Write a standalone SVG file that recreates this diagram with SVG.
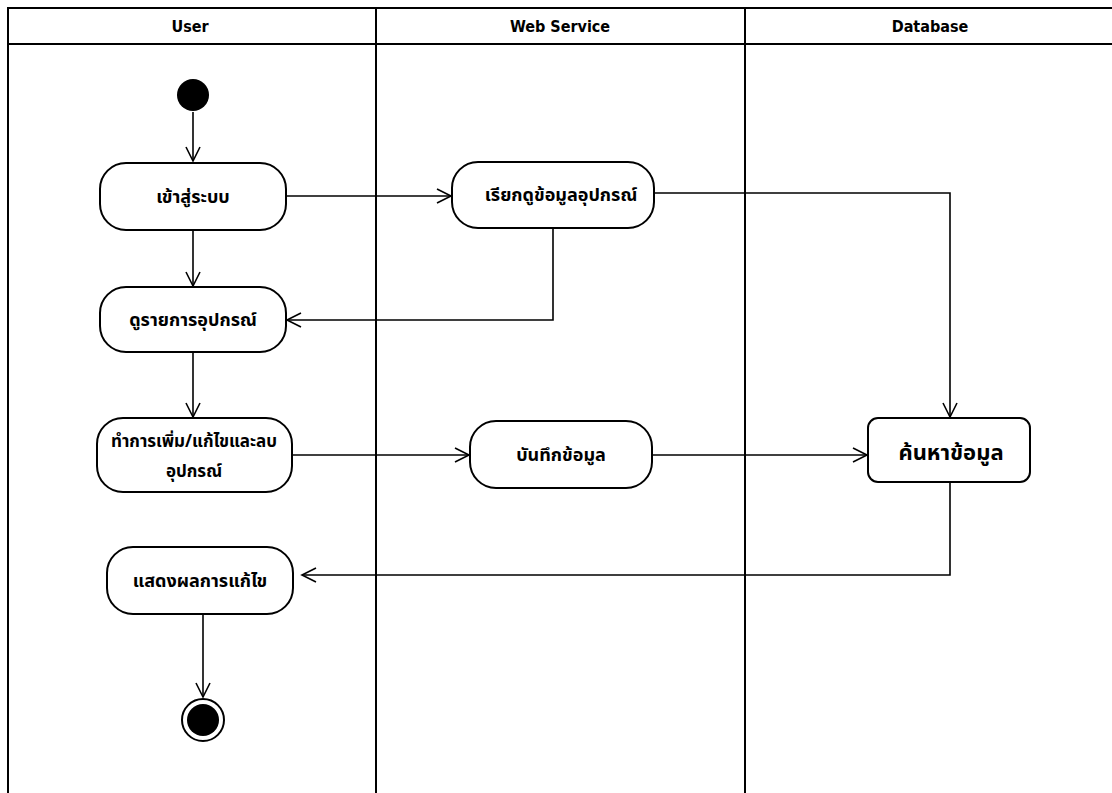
<svg xmlns="http://www.w3.org/2000/svg" width="1112" height="793" viewBox="0 0 1112 793">
<style>
.frame{fill:none;stroke:#000;stroke-width:2}
.node{fill:#fff;stroke:#000;stroke-width:2}
.hdr{font-family:"DejaVu Sans Condensed","Liberation Sans",sans-serif;font-weight:bold;font-size:16px;text-anchor:middle;fill:#000}
.lbl{font-family:"Noto Sans Thai","Noto Sans","DejaVu Sans",sans-serif;font-weight:bold;font-size:18px;text-anchor:middle;fill:#000}
.conn{fill:none;stroke:#000;stroke-width:1.6}
</style>
<defs>
<marker id="arr" markerWidth="20" markerHeight="20" refX="17" refY="10" orient="auto" markerUnits="userSpaceOnUse">
<polyline points="3,3 17,10 3,17" fill="none" stroke="#000" stroke-width="1.6"/>
</marker>
</defs>
<rect width="1112" height="793" fill="#fff"/>
<g id="swimlanes">
<path class="frame" d="M1112,8 H8 V793 M8,44 H1112 M376,8 V793 M745,8 V793"/>
<text class="hdr" x="190" y="32">User</text>
<text class="hdr" x="560" y="32">Web Service</text>
<text class="hdr" x="930" y="32">Database</text>
</g>
<g id="connectors">
<path class="conn" d="M193,112 V161" marker-end="url(#arr)"/>
<path class="conn" d="M286,196 H451" marker-end="url(#arr)"/>
<path class="conn" d="M193,230 V286" marker-end="url(#arr)"/>
<path class="conn" d="M553,228 V320 H287" marker-end="url(#arr)"/>
<path class="conn" d="M654,193 H950 V417" marker-end="url(#arr)"/>
<path class="conn" d="M193,352 V417" marker-end="url(#arr)"/>
<path class="conn" d="M292,455 H469" marker-end="url(#arr)"/>
<path class="conn" d="M652,455 H867" marker-end="url(#arr)"/>
<path class="conn" d="M950,482 V575 H302" marker-end="url(#arr)"/>
<path class="conn" d="M203,614 V697" marker-end="url(#arr)"/>
</g>
<g id="start"><circle cx="193" cy="95" r="16" fill="#000"/></g>
<g id="login">
<rect class="node" x="100" y="163" width="186" height="67" rx="26"/>
<text class="lbl" x="193" y="203">เข้าสู่ระบบ</text>
</g>
<g id="view-list">
<rect class="node" x="100" y="287" width="186" height="65" rx="26"/>
<text class="lbl" x="193" y="326">ดูรายการอุปกรณ์</text>
</g>
<g id="edit">
<rect class="node" x="97" y="418" width="195" height="74" rx="26"/>
<text class="lbl" x="194" y="447" style="font-size:17px">ทำการเพิ่ม/แก้ไขและลบ</text>
<text class="lbl" x="194" y="477" style="font-size:17px">อุปกรณ์</text>
</g>
<g id="show-result">
<rect class="node" x="107" y="547" width="186" height="67" rx="26"/>
<text class="lbl" x="200" y="587">แสดงผลการแก้ไข</text>
</g>
<g id="fetch">
<rect class="node" x="452" y="162" width="202" height="66" rx="26"/>
<text class="lbl" x="561" y="201">เรียกดูข้อมูลอุปกรณ์</text>
</g>
<g id="save">
<rect class="node" x="470" y="421" width="182" height="67" rx="26"/>
<text class="lbl" x="561" y="461">บันทึกข้อมูล</text>
</g>
<g id="search">
<rect class="node" x="868" y="418" width="162" height="64" rx="10"/>
<text class="lbl" x="951" y="460" style="font-size:22px">ค้นหาข้อมูล</text>
</g>
<g id="end">
<circle cx="203" cy="720" r="21" fill="#fff" stroke="#000" stroke-width="2"/>
<circle cx="203" cy="720" r="16" fill="#000"/>
</g>
</svg>
